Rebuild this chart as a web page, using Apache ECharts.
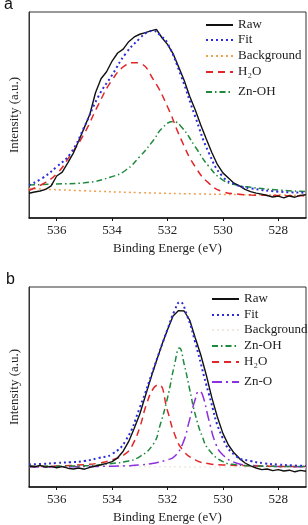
<!DOCTYPE html>
<html>
<head>
<meta charset="utf-8">
<script src="https://cdn.jsdelivr.net/npm/echarts@6/dist/echarts.min.js"></script>
<style>
html, body { margin: 0; padding: 0; background: #fff; }
#chart { width: 308px; height: 525px; }
</style>
</head>
<body>
<div id="chart"></div>
<script>
// binding energy grid for the raw spectra (eV)
var rawEnergy = [537.0, 536.8, 536.6, 536.4, 536.2, 536.0, 535.8, 535.6, 535.4, 535.2,
    535.0, 534.8, 534.6, 534.4, 534.2, 534.0, 533.8, 533.6, 533.4, 533.2,
    533.0, 532.8, 532.6, 532.4, 532.2, 532.0, 531.8, 531.6, 531.4, 531.2,
    531.0, 530.8, 530.6, 530.4, 530.2, 530.0, 529.8, 529.6, 529.4, 529.2,
    529.0, 528.8, 528.6, 528.4, 528.2, 528.0, 527.8, 527.6, 527.4, 527.2, 527.0];

// ---- panel a ----
var rawA = [12.0, 12.6, 13.1, 13.9, 15.6, 20.4, 22.3, 26.8, 31.5, 37.6,
    44.0, 50.5, 60.8, 67.6, 71.0, 76.2, 80.1, 82.0, 85.6, 87.9,
    89.2, 90.0, 90.8, 91.6, 87.5, 84.3, 79.8, 73.4, 66.9, 59.1,
    52.6, 45.2, 38.3, 31.8, 26.0, 21.9, 19.4, 16.9, 15.6, 13.9,
    12.8, 12.1, 11.6, 10.9, 10.2, 10.6, 9.8, 10.7, 10.1, 11.0, 11.3];

var fitAEnergy = [537, 536.5, 536, 535.5, 535, 534.5, 534, 533.5, 533, 532.75, 532.5, 532.25, 532, 531.5, 531, 530.5, 530, 529.5, 529, 528, 527];
var fitA = [16.0, 19.5, 24.9, 31.4, 44.3, 58.9, 69.4, 80.0, 87.2, 90.0, 90.8, 88.5, 84.8, 68.6, 49.2, 31.4, 20.0, 16.0, 14.4, 12.8, 12.3];

var bgAEnergy = [537, 535, 533, 531, 529, 527];
var bgA = [14.3, 13.2, 12.3, 11.7, 11.3, 11.0];

var h2oAEnergy = [537, 536.5, 536, 535.5, 535, 534.5, 534, 533.5, 533.2, 533, 532.5, 532, 531.5, 531, 530.5, 530, 529.5, 529, 528, 527];
var h2oA = [13.5, 16.5, 21.5, 30.6, 41.1, 54.9, 67.0, 74.3, 75.4, 75.1, 67.0, 54.0, 37.9, 24.9, 16.8, 12.8, 11.7, 11.2, 10.9, 10.8];

var znohAEnergy = [537, 536, 535, 534, 533.5, 533, 532.5, 532.2, 531.8, 531.5, 531, 530.5, 530, 529.5, 529, 528, 527];
var znohA = [16.0, 16.5, 17.1, 20.1, 23.3, 29.8, 37.9, 43.5, 46.8, 44.3, 34.6, 24.9, 18.4, 16.0, 14.9, 13.6, 12.8];

// ---- panel b ----
var rawB = [10.6, 10.1, 10.8, 9.9, 10.3, 9.6, 10.2, 9.4, 9.0, 9.5,
    8.9, 9.8, 10.5, 11.1, 11.8, 12.7, 14.6, 17.9, 22.8, 29.4,
    36.5, 45.5, 54.5, 63.0, 71.2, 78.6, 85.5, 88.2, 88.0, 83.5,
    74.6, 66.1, 56.0, 44.7, 35.0, 26.8, 21.0, 17.1, 14.2, 12.0,
    10.6, 9.5, 8.7, 9.0, 8.2, 8.7, 8.0, 8.4, 7.6, 8.3, 7.9];

var fitBEnergy = [537, 536.5, 536, 535.5, 535, 534.5, 534, 533.5, 533, 532.5, 532, 531.75, 531.55, 531.3, 531, 530.5, 530, 529.5, 529, 528.5, 528, 527.5, 527];
var fitB = [11.3, 11.6, 12.0, 12.4, 13.0, 14.5, 16.5, 23.4, 39.7, 59.3, 78.9, 88.0, 92.5, 86.0, 72.4, 46.2, 24.2, 15.2, 13.0, 11.8, 11.2, 10.8, 10.5];

var bgBEnergy = [537, 532, 527];
var bgB = [10.5, 10.1, 9.8];

var znohBEnergy = [537, 536, 535, 534.5, 534, 533.5, 533, 532.5, 532.29, 532, 531.75, 531.57, 531.39, 531.21, 531, 530.74, 530.5, 530, 529.5, 529, 528, 527];
var znohB = [10.3, 10.4, 10.6, 11.0, 11.8, 12.7, 15.2, 21.7, 29.9, 44.6, 60.9, 69.5, 60.9, 49.5, 36.4, 25.0, 18.5, 12.7, 11.1, 10.6, 10.3, 10.2];

var h2oBEnergy = [537, 536, 535, 534.5, 534, 533.5, 533.24, 533, 532.76, 532.5, 532.31, 532, 531.75, 531.45, 531, 530.5, 530, 529, 528, 527];
var h2oB = [10.2, 10.5, 11.2, 11.9, 13.6, 16.8, 21.7, 29.9, 41.3, 49.5, 51.1, 38.1, 26.6, 18.5, 13.6, 11.6, 11.0, 10.6, 10.3, 10.2];

var znoBEnergy = [537, 535, 534, 533.5, 533, 532.5, 532, 531.75, 531.45, 531.21, 531, 530.86, 530.74, 530.5, 530.26, 530, 529.5, 529, 528, 527];
var znoB = [10.0, 10.2, 10.4, 10.6, 11.0, 11.9, 13.6, 15.2, 21.7, 33.2, 43.8, 47.9, 46.2, 33.2, 21.7, 16.0, 11.9, 10.8, 10.3, 10.1];

var tickValues = [528, 530, 532, 534, 536];

function pairs(xs, ys) {
    return xs.map(function (x, i) { return [x, ys[i]]; });
}

var serif = 'Liberation Serif';

function xAxisFor(i) {
    return {
        gridIndex: i,
        type: 'value',
        min: 527,
        max: 537,
        inverse: true,
        name: 'Binding Energe (eV)',
        nameLocation: 'middle',
        nameGap: 24,
        nameTextStyle: { fontFamily: serif, fontSize: 13, color: '#222' },
        axisLine: { show: true, lineStyle: { color: '#111', width: 1.5 } },
        axisTick: { show: true, inside: false, length: 3, customValues: tickValues, lineStyle: { color: '#111' } },
        axisLabel: { customValues: tickValues, margin: 6, fontFamily: serif, fontSize: 13, color: '#222' },
        splitLine: { show: false }
    };
}

function yAxisFor(i) {
    return {
        gridIndex: i,
        type: 'value',
        min: 0,
        max: 100,
        name: 'Intensity (a.u.)',
        nameLocation: 'middle',
        nameGap: 8,
        nameTextStyle: { fontFamily: serif, fontSize: 13, color: '#222' },
        axisLine: { show: true, lineStyle: { color: '#333', width: 1 } },
        axisTick: { show: false },
        axisLabel: { show: false },
        splitLine: { show: false }
    };
}

function line(name, idx, data, color, width, dash, smooth) {
    return {
        name: name,
        type: 'line',
        xAxisIndex: idx,
        yAxisIndex: idx,
        data: data,
        symbol: 'none',
        showSymbol: false,
        smooth: smooth,
        animation: false,
        lineStyle: { color: color, width: width, type: dash },
        itemStyle: { color: color }
    };
}

function legendItem(name, left, cy) {
    return {
        data: [name],
        left: left,
        top: cy - 7,
        padding: 0,
        itemWidth: 27,
        itemHeight: 10,
        selectedMode: false,
        itemStyle: { opacity: 0 },
        formatter: function (n) { return n.replace('b:', ''); },
        textStyle: { fontFamily: serif, fontSize: 13, color: '#222', lineHeight: 14 }
    };
}

var blue = '#2b2bd9', orange = '#f0a050', red = '#e3262a', green = '#1f8a3b', purple = '#8e2fe0';
var dotted = [2, 3], dashed = [7, 5], dashDot = [6, 3, 1.5, 3], longDashDot = [10, 4, 2, 4];

var myChart = echarts.init(document.getElementById('chart'));
var option = {
    backgroundColor: '#fff',
    animation: false,
    title: [
        { text: 'a', left: 4, top: -3, padding: 0, textStyle: { fontFamily: 'Liberation Sans', fontSize: 16, fontWeight: 'normal', color: '#111' } },
        { text: 'b', left: 6, top: 272, padding: 0, textStyle: { fontFamily: 'Liberation Sans', fontSize: 16, fontWeight: 'normal', color: '#111' } }
    ],
    grid: [
        { left: 28, top: 12, width: 278, height: 206, show: true, borderColor: '#333', borderWidth: 1 },
        { left: 28, top: 287, width: 278, height: 204, show: true, borderColor: '#333', borderWidth: 1 }
    ],
    xAxis: [xAxisFor(0), xAxisFor(1)],
    yAxis: [yAxisFor(0), yAxisFor(1)],
    legend: [
        legendItem('Raw', 205, 25),
        legendItem('Fit', 205, 40),
        legendItem('Background', 205, 56),
        legendItem('H₂O', 205, 72),
        legendItem('Zn-OH', 205, 92),
        legendItem('b:Raw', 211, 299),
        legendItem('b:Fit', 211, 315),
        legendItem('b:Background', 211, 330),
        legendItem('b:Zn-OH', 211, 346),
        legendItem('b:H₂O', 211, 362),
        legendItem('b:Zn-O', 211, 382)
    ],
    series: [
        line('Background', 0, pairs(bgAEnergy, bgA), orange, 1.5, dotted, true),
        line('Zn-OH', 0, pairs(znohAEnergy, znohA), green, 1.5, dashDot, true),
        line('H₂O', 0, pairs(h2oAEnergy, h2oA), red, 1.5, dashed, true),
        line('Raw', 0, pairs(rawEnergy, rawA), '#111', 1.4, 'solid', false),
        line('Fit', 0, pairs(fitAEnergy, fitA), blue, 2, dotted, true),

        line('b:Background', 1, pairs(bgBEnergy, bgB), '#efe9e2', 1.5, dotted, true),
        line('b:Zn-O', 1, pairs(znoBEnergy, znoB), purple, 1.5, longDashDot, true),
        line('b:H₂O', 1, pairs(h2oBEnergy, h2oB), red, 1.5, dashed, true),
        line('b:Zn-OH', 1, pairs(znohBEnergy, znohB), green, 1.5, dashDot, true),
        line('b:Raw', 1, pairs(rawEnergy, rawB), '#111', 1.4, 'solid', false),
        line('b:Fit', 1, pairs(fitBEnergy, fitB), blue, 2, dotted, true)
    ]
};
option && myChart.setOption(option);
</script>
</body>
</html>
